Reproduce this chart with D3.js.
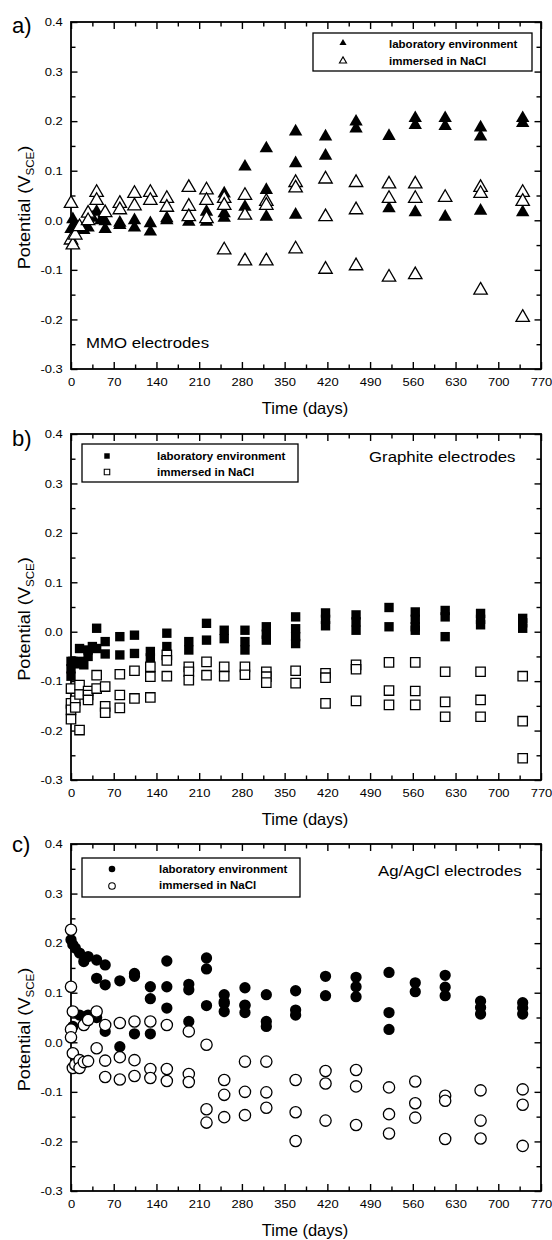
<!DOCTYPE html>
<html>
<head>
<meta charset="utf-8">
<script src="https://cdn.jsdelivr.net/npm/d3@7"></script>
<style>
  body { margin: 0; background: #fff; }
  svg { display: block; }
  text { font-family: "Liberation Sans", Arial, Helvetica, sans-serif; fill: #000; }
</style>
</head>
<body>
<svg id="fig" width="552" height="1240"></svg>
<script>
// ---- axis ticks ----
const xMajorTicks = [0, 70, 140, 210, 280, 350, 420, 490, 560, 630, 700, 770];
const xMinorTicks = [35, 105, 175, 245, 315, 385, 455, 525, 595, 665, 735];
const yMajorTicks = [-0.3, -0.2, -0.1, 0.0, 0.1, 0.2, 0.3, 0.4];
const yMinorTicks = [-0.25, -0.15, -0.05, 0.05, 0.15, 0.25, 0.35];

// ---- series: [time (days), potential (V vs SCE)] ----
// a) MMO electrodes
const mmoLab = [
  [0,-0.018],[3,0.002],[7,-0.01],[14,-0.02],[21,-0.02],[28,-0.015],[35,0.005],[42,0.017],[49,0.0],
  [56,-0.018],[56,-0.002],[80,-0.005],[80,-0.01],[104,0.0],[104,-0.015],[130,-0.006],[130,-0.023],
  [157,0.004],[157,0.0],[193,-0.003],[222,0.017],[222,-0.003],[251,0.054],[251,0.014],[251,0.005],
  [285,0.108],[285,0.027],[320,0.145],[320,0.061],[320,0.007],[368,0.179],[368,0.115],[368,0.011],
  [417,0.169],[417,0.13],[467,0.199],[467,0.185],[521,0.17],[521,0.024],[564,0.206],[564,0.192],
  [564,0.016],[613,0.206],[613,0.19],[613,0.007],[671,0.187],[671,0.169],[671,0.019],
  [740,0.206],[740,0.196],[740,0.016]
];
const mmoNaCl = [
  [0,0.034],[0,-0.04],[3,-0.05],[7,-0.03],[14,-0.013],[28,0.014],[28,-0.001],[42,0.056],[42,0.04],
  [56,0.015],[80,0.034],[80,0.021],[104,0.054],[104,0.029],[130,0.056],[130,0.04],[157,0.044],
  [157,0.026],[193,0.066],[193,0.028],[193,0.007],[222,0.061],[222,0.04],[222,0.003],[251,0.044],
  [251,0.03],[251,-0.06],[285,0.05],[285,0.01],[285,-0.082],[320,0.038],[320,0.03],[320,-0.082],
  [368,0.076],[368,0.065],[368,-0.058],[417,0.083],[417,0.007],[417,-0.099],[467,0.076],[467,0.021],
  [467,-0.092],[521,0.073],[521,0.044],[521,-0.115],[564,0.073],[564,0.044],[564,-0.11],[613,0.046],
  [671,0.066],[671,0.054],[671,-0.141],[740,0.056],[740,0.038],[740,-0.196]
];
// b) Graphite electrodes
const graphiteLab = [
  [0,-0.06],[0,-0.075],[0,-0.09],[3,-0.06],[7,-0.065],[14,-0.034],[14,-0.06],[21,-0.067],[28,-0.037],
  [28,-0.05],[35,-0.03],[42,0.007],[42,-0.034],[56,-0.02],[56,-0.045],[80,-0.01],[80,-0.047],
  [104,-0.007],[104,-0.044],[130,-0.04],[130,-0.053],[157,-0.003],[157,-0.03],[193,-0.02],[193,-0.037],
  [222,0.017],[222,-0.017],[251,0.003],[251,-0.014],[285,0.003],[285,-0.02],[285,-0.037],[320,0.01],
  [320,-0.005],[320,-0.017],[368,0.03],[368,0.006],[368,-0.01],[368,-0.024],[417,0.038],[417,0.025],
  [417,0.012],[467,0.034],[467,0.02],[467,0.003],[521,0.049],[521,0.01],[564,0.04],[564,0.025],
  [564,0.01],[564,0.003],[613,0.043],[613,0.03],[613,-0.01],[671,0.037],[671,0.025],[671,0.014],
  [740,0.027],[740,0.018],[740,0.007]
];
const graphiteNaCl = [
  [0,-0.115],[0,-0.145],[0,-0.158],[0,-0.177],[7,-0.14],[7,-0.153],[14,-0.108],[14,-0.127],[14,-0.199],
  [28,-0.12],[28,-0.128],[28,-0.138],[42,-0.088],[42,-0.115],[56,-0.111],[56,-0.151],[56,-0.164],
  [80,-0.086],[80,-0.128],[80,-0.154],[104,-0.079],[104,-0.135],[130,-0.071],[130,-0.091],[130,-0.133],
  [157,-0.047],[157,-0.058],[157,-0.09],[193,-0.071],[193,-0.081],[193,-0.098],[222,-0.061],[222,-0.088],
  [251,-0.071],[251,-0.09],[285,-0.071],[285,-0.087],[320,-0.081],[320,-0.091],[320,-0.103],
  [368,-0.079],[368,-0.104],[417,-0.084],[417,-0.093],[417,-0.145],[467,-0.067],[467,-0.076],
  [467,-0.14],[521,-0.062],[521,-0.119],[521,-0.148],[564,-0.062],[564,-0.12],[564,-0.148],
  [613,-0.081],[613,-0.142],[613,-0.172],[671,-0.081],[671,-0.138],[671,-0.172],[740,-0.09],
  [740,-0.181],[740,-0.256]
];
// c) Ag/AgCl electrodes
const agclLab = [
  [0,0.207],[3,0.197],[7,0.19],[14,0.18],[21,0.163],[28,0.173],[42,0.166],[42,0.129],[56,0.156],
  [56,0.116],[80,0.124],[104,0.139],[104,0.133],[130,0.112],[130,0.088],[157,0.164],[157,0.112],
  [193,0.117],[193,0.106],[222,0.17],[222,0.148],[251,0.096],[251,0.082],[285,0.11],[285,0.075],
  [320,0.096],[368,0.104],[368,0.065],[368,0.055],[417,0.133],[417,0.094],[467,0.131],[467,0.112],
  [467,0.092],[521,0.141],[521,0.06],[521,0.026],[564,0.12],[564,0.102],[613,0.135],[613,0.111],
  [613,0.094],[671,0.083],[671,0.07],[671,0.057],[740,0.08],[740,0.069],[740,0.057],
  [3,0.032],[14,0.055],[28,0.055],[42,0.05],[56,0.022],[80,-0.009],[104,0.017],[130,0.017],
  [157,0.069],[193,0.042],[222,0.074],[251,0.078],[251,0.062],[285,0.074],[285,0.06],[320,0.042],
  [320,0.032]
];
const agclNaCl = [
  [0,0.227],[0,0.112],[0,0.026],[0,0.01],[3,0.062],[3,-0.022],[3,-0.052],[7,-0.045],[14,-0.036],
  [14,-0.052],[21,0.035],[21,-0.04],[28,0.045],[28,-0.038],[42,0.062],[42,-0.012],[56,0.035],
  [56,-0.037],[56,-0.07],[80,0.039],[80,-0.03],[80,-0.075],[104,0.042],[104,-0.036],[104,-0.068],
  [130,0.042],[130,-0.054],[130,-0.072],[157,0.035],[157,-0.054],[157,-0.078],[193,0.022],
  [193,-0.064],[193,-0.08],[222,-0.005],[222,-0.135],[222,-0.162],[251,-0.076],[251,-0.106],
  [251,-0.151],[285,-0.039],[285,-0.1],[285,-0.147],[320,-0.039],[320,-0.101],[320,-0.132],
  [368,-0.076],[368,-0.141],[368,-0.199],[417,-0.058],[417,-0.083],[417,-0.158],[467,-0.056],
  [467,-0.089],[467,-0.167],[521,-0.091],[521,-0.145],[521,-0.184],[564,-0.079],[564,-0.123],
  [564,-0.152],[613,-0.108],[613,-0.118],[613,-0.195],[671,-0.097],[671,-0.158],[671,-0.194],
  [740,-0.095],[740,-0.126],[740,-0.209]
];

const legendLabels = ["laboratory environment", "immersed in NaCl"];

// ---- layout ----
const svg = d3.select("#fig");
const plotLeft = 71, plotRight = 541;

const panels = [
  { letter: "a)", top: 22, bottom: 369, letterY: 33, shape: d3.symbolTriangle, markSize: 78, legSize: 22,
    lab: mmoLab, nacl: mmoNaCl, label: "MMO electrodes", labelX: 86, labelY: 348,
    legend: { x0: 313, y0: 33, x1: 532, y1: 71, mx: 343, tx: 389, rows: [43, 61], base: [47.5, 65] } },
  { letter: "b)", top: 434, bottom: 780, letterY: 446, shape: d3.symbolSquare, markSize: 88, legSize: 30,
    lab: graphiteLab, nacl: graphiteNaCl, label: "Graphite electrodes", labelX: 369, labelY: 462,
    legend: { x0: 82, y0: 444, x1: 298, y1: 482, mx: 107, tx: 157, rows: [456, 472], base: [460, 476] } },
  { letter: "c)", top: 844, bottom: 1191, letterY: 852, shape: d3.symbolCircle, markSize: 100, legSize: 34,
    lab: agclLab, nacl: agclNaCl, label: "Ag/AgCl electrodes", labelX: 378, labelY: 876,
    legend: { x0: 82, y0: 858, x1: 300, y1: 897, mx: 112, tx: 159, rows: [869, 886], base: [873, 889] } }
];

function styleAxis(sel) {
  sel.select(".domain").remove();
  sel.selectAll(".tick line").attr("stroke", "#000").attr("stroke-width", 1.4);
}

panels.forEach(p => {
  const g = svg.append("g");
  const x = d3.scaleLinear().domain([0, 770]).range([plotLeft, plotRight]);
  const y = d3.scaleLinear().domain([-0.3, 0.4]).range([p.bottom, p.top]);

  // bottom axis with labels
  const gb = g.append("g").attr("transform", `translate(0,${p.bottom})`)
    .call(d3.axisBottom(x).tickValues(xMajorTicks).tickSize(-7).tickPadding(9).tickFormat(d3.format("d")));
  styleAxis(gb);
  gb.selectAll("text").attr("font-size", 11.8).attr("transform", "scale(1.1,1)");
  const gbm = g.append("g").attr("transform", `translate(0,${p.bottom})`)
    .call(d3.axisBottom(x).tickValues(xMinorTicks).tickSize(-4.5).tickFormat(""));
  styleAxis(gbm);

  // top axis (ticks only)
  [[xMajorTicks, -7], [xMinorTicks, -4.5]].forEach(([tv, ts]) => {
    const gt = g.append("g").attr("transform", `translate(0,${p.top})`)
      .call(d3.axisTop(x).tickValues(tv).tickSize(ts).tickFormat(""));
    styleAxis(gt);
  });

  // left axis with labels
  const gl = g.append("g").attr("transform", `translate(${plotLeft},0)`)
    .call(d3.axisLeft(y).tickValues(yMajorTicks).tickSize(-6.5).tickPadding(7.5).tickFormat(d => d.toFixed(1)));
  styleAxis(gl);
  gl.selectAll("text").attr("font-size", 11.8).attr("transform", "scale(1.1,1)");
  const glm = g.append("g").attr("transform", `translate(${plotLeft},0)`)
    .call(d3.axisLeft(y).tickValues(yMinorTicks).tickSize(-4.5).tickFormat(""));
  styleAxis(glm);

  // right axis (ticks only)
  [[yMajorTicks, -6.5], [yMinorTicks, -4.5]].forEach(([tv, ts]) => {
    const gr = g.append("g").attr("transform", `translate(${plotRight},0)`)
      .call(d3.axisRight(y).tickValues(tv).tickSize(ts).tickFormat(""));
    styleAxis(gr);
  });

  // frame
  g.append("rect")
    .attr("x", plotLeft).attr("y", p.top)
    .attr("width", plotRight - plotLeft).attr("height", p.bottom - p.top)
    .attr("fill", "none").attr("stroke", "#000").attr("stroke-width", 1.8);

  // markers: filled series first, open series on top
  const sym = d3.symbol().type(p.shape).size(p.markSize);
  g.append("g").selectAll("path").data(p.lab).join("path")
    .attr("d", sym)
    .attr("transform", d => `translate(${x(d[0])},${y(d[1])})`)
    .attr("fill", "#000");
  g.append("g").selectAll("path").data(p.nacl).join("path")
    .attr("d", sym)
    .attr("transform", d => `translate(${x(d[0])},${y(d[1])})`)
    .attr("fill", "#fff").attr("stroke", "#000").attr("stroke-width", 1.3);

  // legend
  const L = p.legend;
  g.append("rect").attr("x", L.x0).attr("y", L.y0)
    .attr("width", L.x1 - L.x0).attr("height", L.y1 - L.y0)
    .attr("fill", "#fff").attr("stroke", "#000").attr("stroke-width", 1.3);
  const lsym = d3.symbol().type(p.shape).size(p.legSize);
  g.append("path").attr("d", lsym).attr("transform", `translate(${L.mx},${L.rows[0]})`).attr("fill", "#000");
  g.append("path").attr("d", lsym).attr("transform", `translate(${L.mx},${L.rows[1]})`)
    .attr("fill", "#fff").attr("stroke", "#000").attr("stroke-width", 1.1);
  legendLabels.forEach((t, i) => {
    g.append("text").attr("x", L.tx).attr("y", L.base[i])
      .attr("font-size", 11.5).attr("font-weight", "bold").text(t);
  });

  // panel letter
  g.append("text").attr("x", 12).attr("y", p.letterY).attr("font-size", 22).text(p.letter);

  // electrode label
  g.append("text").attr("transform", `translate(${p.labelX},${p.labelY}) scale(1.12,1)`)
    .attr("font-size", 15).text(p.label);

  // x-axis title
  g.append("text").attr("x", 305).attr("y", p.bottom + 45)
    .attr("text-anchor", "middle").attr("font-size", 16.5).text("Time (days)");

  // y-axis title
  const yt = g.append("text")
    .attr("transform", `translate(30,${(p.top + p.bottom) / 2 + 12}) rotate(-90) scale(1.1,1)`)
    .attr("text-anchor", "middle").attr("font-size", 16.5);
  yt.append("tspan").text("Potential (V");
  yt.append("tspan").attr("font-size", 10.5).attr("dy", 4).text("SCE");
  yt.append("tspan").attr("dy", -4).text(")");
});
</script>
</body>
</html>
